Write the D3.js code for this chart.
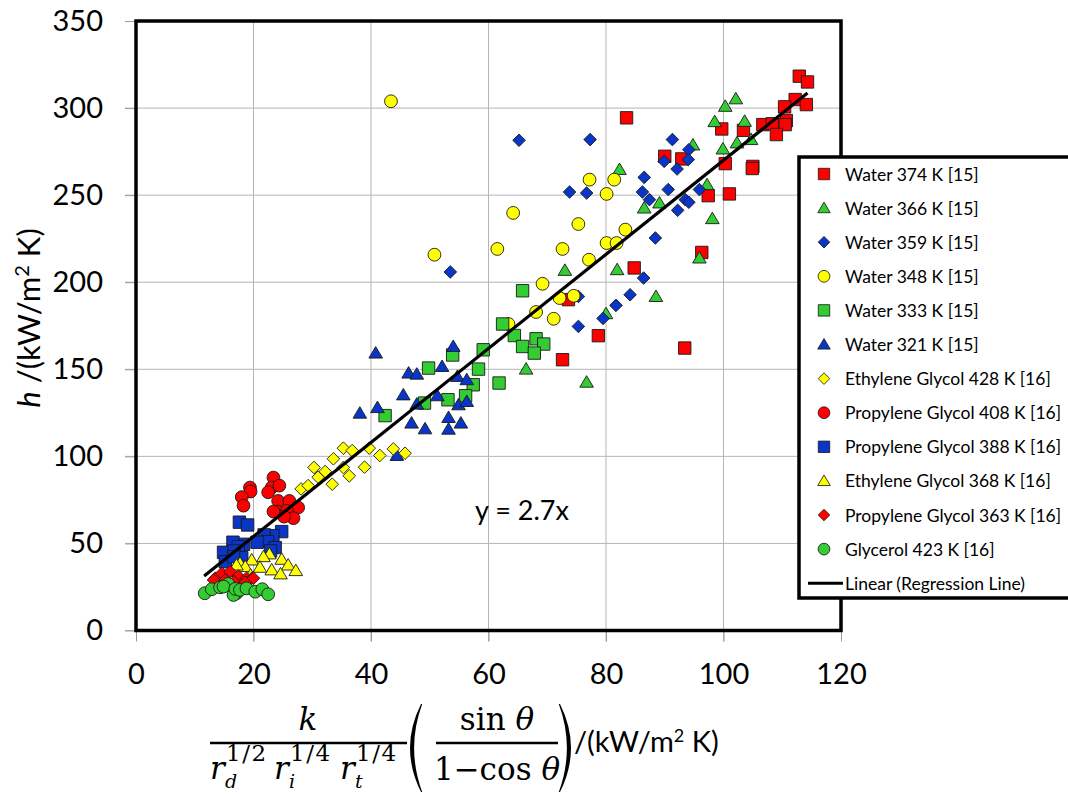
<!DOCTYPE html>
<html>
<head>
<meta charset="utf-8">
<title>h versus grouped conductivity parameter</title>
<script src="https://d3js.org/d3.v7.min.js"></script>
<style>
  body { margin: 0; background: #fff; }
  text { font-family: Lato, "Open Sans", sans-serif; fill: #000; }
  .math { font-family: "DejaVu Serif", serif; }
</style>
</head>
<body>
<div id="chart"></div>
<script>
// series values, [x, h]
var water374 = [[112.9,318.3],[114.3,315],[112.2,304.9],[114.1,302],[110.4,300.7],[83.5,294.4],[106.7,290.5],[108.3,291],[110.7,292.8],[110.5,290.5],[109,284.8],[99.7,288],[103.4,287.2],[90,272.3],[92.9,270.8],[100.3,268.1],[105,266.5],[104.9,265.3],[97.4,249.7],[101,250.7],[96.3,217.1],[84.8,208.2],[73.6,190],[78.7,169.3],[72.6,155.5],[93.4,162.2]];
var water366 = [[102.1,305.3],[100.3,301],[98.5,292.2],[103.6,292.4],[104.7,281.9],[102.3,280],[99.9,276.5],[94.8,278.8],[82.3,264.7],[97.2,256],[86.5,242.6],[89.1,245.5],[98.1,236.5],[95.9,213.9],[73,206.8],[81.9,207.2],[88.5,191.8],[80,181.9],[76.7,142.6],[66.4,150.1]];
var water359 = [[65.2,281.5],[77.3,281.9],[91.3,281.9],[94.1,276.1],[94,270.4],[89.9,269.4],[92.1,265],[86.5,260.2],[73.8,251.8],[76.7,251.2],[86.2,251.8],[90.6,253.2],[95.9,253.2],[87.4,247.4],[93.5,247.4],[94.1,245.9],[92.2,241.3],[88.4,225.4],[86.4,202.4],[84.1,192.8],[81.7,186.7],[79.5,179.2],[75.3,174.6],[75.3,191.8],[53.5,205.9]];
var water348 = [[43.4,303.9],[50.8,215.8],[61.5,219.1],[63.4,176],[64.2,239.8],[68.1,182.9],[69.2,199.1],[71.1,179],[72.1,190.9],[72.6,219.1],[74.5,192.2],[75.3,233.4],[77.1,212.9],[77.2,258.9],[80.1,250.7],[80.1,222.5],[81.8,222.5],[81.4,258.9],[83.3,230.2]];
var water333 = [[65.8,195.1],[62.4,176],[64.4,169.4],[68.1,167.5],[69.4,164.5],[65.8,163.1],[67.8,159.3],[59.1,161.2],[53.9,158.2],[49.8,150.7],[58.3,150.1],[61.8,142.1],[57.4,141.1],[56.1,134.8],[53.1,132.5],[49.1,130.6],[42.4,123.4]];
var water321 = [[40.8,159.3],[54,163.1],[52.1,151.6],[46.4,147.8],[47.8,147.2],[54.7,145.9],[56.3,144],[45.5,135.3],[51.3,134.8],[47.8,130],[54.9,129.6],[56.3,131.5],[41.1,128],[38.1,124.8],[53.2,122.3],[46.9,119.1],[55.3,119.1],[49.2,115.8],[53.2,115.6],[44.4,100.5]];
var eg428 = [[28.1,81.3],[29.3,83.2],[30.3,93.6],[31,88],[32.2,91.3],[33.4,84],[33.6,98.6],[35.3,104.7],[35.3,93.6],[36.3,88.8],[36.8,103.3],[38.9,93.8],[39.7,104.7],[41.5,100.5],[43.8,104.3],[45.8,101.8]];
var pg408 = [[23.4,87.8],[19.4,82.1],[23.1,82.1],[24.4,83.2],[19.5,79.8],[18,76.6],[22.5,79.4],[18.3,71.7],[24.2,74.4],[26.1,74.4],[24.1,68.3],[27.6,70.6],[25.7,68.7],[26.8,64.5],[25.2,65.4],[23.4,68.3]];
var pg388 = [[17.6,62.2],[19,60.6],[24.8,56.8],[23.3,54.5],[21.8,54.9],[22.4,51],[20.6,50.7],[18.3,49.5],[16.5,50.7],[23.7,47.6],[17.4,48.2],[14.9,44.9],[16.7,45.7],[15.2,39.5],[18,41.8],[22.9,45.7],[16.6,42.4]];
var eg368 = [[22.7,44],[21.7,42.4],[19.7,40.5],[17.7,38.6],[24.8,40.9],[25.9,37.6],[21.1,36.3],[23.1,34.8],[24.6,32.5],[27.2,34.4],[18.6,36.7],[17.1,37.6],[19.5,31.9]];
var pg363 = [[13.5,30],[14.6,32.9],[16,33.8],[17.4,31.3],[18.8,30],[19.7,30],[13.2,29],[15.2,29],[16.7,28],[18.6,27.7],[20,30]];
var gly423 = [[11.7,21.4],[12.9,23.7],[14.3,24.8],[15.7,26.7],[14.9,25.2],[17.1,21.4],[16.6,20.4],[16.9,23.9],[17.7,23.3],[18.8,24.2],[20.3,22.3],[21.5,23.7],[22.5,20.8]];

var seriesNames = ["Water 374 K [15]", "Water 366 K [15]", "Water 359 K [15]", "Water 348 K [15]",
  "Water 333 K [15]", "Water 321 K [15]", "Ethylene Glycol 428 K [16]", "Propylene Glycol 408 K [16]",
  "Propylene Glycol 388 K [16]", "Ethylene Glycol 368 K [16]", "Propylene Glycol 363 K [16]", "Glycerol 423 K [16]"];
var seriesValues = [water374, water366, water359, water348, water333, water321, eg428, pg408, pg388, eg368, pg363, gly423];
var fitName = "Linear (Regression Line)";
var fitSlope = 2.7;
var fitRange = [11.6, 114.3];
var xTicks = [0, 20, 40, 60, 80, 100, 120];
var yTicks = [0, 50, 100, 150, 200, 250, 300, 350];

// marker look per series (same order as seriesNames)
var red = "#ff0000", green = "#33cc33", blue = "#0a36c8", yellow = "#ffff00";
var looks = [
  {shape: "square", fill: red}, {shape: "triangle", fill: green}, {shape: "diamond", fill: blue},
  {shape: "circle", fill: yellow}, {shape: "square", fill: green}, {shape: "triangle", fill: blue},
  {shape: "diamond", fill: yellow}, {shape: "circle", fill: red}, {shape: "square", fill: blue},
  {shape: "triangle", fill: yellow}, {shape: "diamond", fill: red}, {shape: "circle", fill: green}
];

function markerPath(shape) {
  var p = d3.path();
  if (shape == "square") { p.rect(-6.2, -6.2, 12.4, 12.4); }
  else if (shape == "circle") { p.arc(0, 0, 6.4, 0, 2 * Math.PI); }
  else if (shape == "triangle") { p.moveTo(0, -6.5); p.lineTo(6.8, 5); p.lineTo(-6.8, 5); p.closePath(); }
  else { p.moveTo(0, -6.3); p.lineTo(6.3, 0); p.lineTo(0, 6.3); p.lineTo(-6.3, 0); p.closePath(); }
  return p.toString();
}

var W = 1068, H = 795;
var svg = d3.select("#chart").append("svg").attr("width", W).attr("height", H);

var x = d3.scaleLinear().domain([0, 120]).range([136, 841]);
var y = d3.scaleLinear().domain([0, 350]).range([630.5, 21]);

// gridlines
svg.append("g")
  .selectAll("line.vg").data(xTicks.slice(1, -1)).enter().append("line")
  .attr("x1", function(d) { return x(d); }).attr("x2", function(d) { return x(d); })
  .attr("y1", y(350)).attr("y2", y(0) + 11)
  .attr("stroke", "#b5b5b5").attr("stroke-width", 1);
svg.append("g")
  .selectAll("line.hg").data(yTicks.slice(0, -1)).enter().append("line")
  .attr("x1", x(0) - 11).attr("x2", x(120))
  .attr("y1", function(d) { return y(d); }).attr("y2", function(d) { return y(d); })
  .attr("stroke", "#b5b5b5").attr("stroke-width", 1);

// axes (ticks + labels)
var xAxis = svg.append("g").attr("transform", "translate(0," + y(0) + ")")
  .call(d3.axisBottom(x).tickValues(xTicks).tickSize(11).tickPadding(22));
xAxis.select(".domain").remove();
xAxis.selectAll(".tick line").attr("stroke", "#9a9a9a");
xAxis.selectAll("text").style("font-family", "Lato, sans-serif").style("font-size", "29px");

var yAxis = svg.append("g").attr("transform", "translate(" + x(0) + ",0)")
  .call(d3.axisLeft(y).tickValues(yTicks).tickSize(11).tickPadding(22));
yAxis.select(".domain").remove();
yAxis.selectAll(".tick line").attr("stroke", "#9a9a9a");
yAxis.selectAll("text").style("font-family", "Lato, sans-serif").style("font-size", "29px");

// plot frame
svg.append("rect")
  .attr("x", x(0)).attr("y", y(350))
  .attr("width", x(120) - x(0)).attr("height", y(0) - y(350))
  .attr("fill", "none").attr("stroke", "#000").attr("stroke-width", 3.5);

// markers
seriesValues.forEach(function(vals, i) {
  svg.append("g").selectAll("path").data(vals).enter().append("path")
    .attr("d", markerPath(looks[i].shape))
    .attr("transform", function(d) { return "translate(" + x(d[0]) + "," + y(d[1]) + ")"; })
    .attr("fill", looks[i].fill)
    .attr("stroke", "#1a1a1a").attr("stroke-width", 0.9);
});

// regression line y = 2.7x
svg.append("line")
  .attr("x1", x(fitRange[0])).attr("y1", y(fitSlope * fitRange[0]))
  .attr("x2", x(fitRange[1])).attr("y2", y(fitSlope * fitRange[1]))
  .attr("stroke", "#000").attr("stroke-width", 3.2);

svg.append("text").attr("x", 522).attr("y", 520).attr("text-anchor", "middle")
  .style("font-size", "27px").text("y = 2.7x");

// legend
var lg = svg.append("g").attr("transform", "translate(799,157)");
lg.append("rect").attr("width", 300).attr("height", 441)
  .attr("fill", "#fff").attr("stroke", "#000").attr("stroke-width", 3.5);
seriesNames.forEach(function(name, i) {
  var cy = 17 + i * 34.1;
  lg.append("path").attr("d", markerPath(looks[i].shape))
    .attr("transform", "translate(25," + cy + ") scale(0.92)")
    .attr("fill", looks[i].fill).attr("stroke", "#1a1a1a").attr("stroke-width", 0.9);
  lg.append("text").attr("x", 46).attr("y", cy + 6.5).style("font-size", "17.5px").text(name);
});
var fy = 17 + 12 * 34.1;
lg.append("line").attr("x1", 9).attr("x2", 44).attr("y1", fy).attr("y2", fy)
  .attr("stroke", "#000").attr("stroke-width", 3);
lg.append("text").attr("x", 46).attr("y", fy + 6.5).style("font-size", "17.5px").text(fitName);

// y axis title
var yt = svg.append("text").attr("transform", "translate(40,318) rotate(-90)")
  .attr("text-anchor", "middle").style("font-size", "31px");
yt.append("tspan").style("font-style", "italic").text("h");
yt.append("tspan").text(" /(kW/m");
yt.append("tspan").attr("dy", -11).style("font-size", "20px").text("2");
yt.append("tspan").attr("dy", 11).text(" K)");

// x axis title: k / (r_d^1/2 r_i^1/4 r_t^1/4) * (sin θ / (1 − cos θ)) /(kW/m² K)
var xt = svg.append("g");
xt.append("text").attr("class", "math").attr("x", 308).attr("y", 730).attr("text-anchor", "middle")
  .style("font-size", "31px").style("font-style", "italic").text("k");
xt.append("line").attr("x1", 210).attr("x2", 407).attr("y1", 743).attr("y2", 743)
  .attr("stroke", "#000").attr("stroke-width", 2.4);
var rParts = [{x: 210, exp: "1/2", sub: "d"}, {x: 274, exp: "1/4", sub: "i"}, {x: 340, exp: "1/4", sub: "t"}];
rParts.forEach(function(r) {
  xt.append("text").attr("class", "math").attr("x", r.x).attr("y", 779)
    .style("font-size", "31px").style("font-style", "italic").text("r");
  xt.append("text").attr("class", "math").attr("x", r.x + 16).attr("y", 761)
    .style("font-size", "23px").style("letter-spacing", "1.5px").text(r.exp);
  xt.append("text").attr("class", "math").attr("x", r.x + 15).attr("y", 788)
    .style("font-size", "19px").style("font-style", "italic").text(r.sub);
});
function paren(x0, dir) {
  // filled crescent, thick in the middle and thin at the ends
  var top = 704, bot = 792, mid = (top + bot) / 2;
  var p = d3.path();
  p.moveTo(x0, top);
  p.quadraticCurveTo(x0 - dir * 22, mid, x0, bot);
  p.lineTo(x0 + dir * 1.2, bot);
  p.quadraticCurveTo(x0 - dir * 15, mid, x0 + dir * 1.2, top);
  p.closePath();
  return p.toString();
}
xt.append("path").attr("d", paren(421, 1)).attr("fill", "#000");
xt.append("path").attr("d", paren(560, -1)).attr("fill", "#000");
var sinT = xt.append("text").attr("class", "math").attr("x", 497).attr("y", 730)
  .attr("text-anchor", "middle").style("font-size", "31px");
sinT.append("tspan").text("sin ");
sinT.append("tspan").style("font-style", "italic").text("θ");
xt.append("line").attr("x1", 436).attr("x2", 558).attr("y1", 743).attr("y2", 743)
  .attr("stroke", "#000").attr("stroke-width", 2.4);
var cosT = xt.append("text").attr("class", "math").attr("x", 497).attr("y", 780)
  .attr("text-anchor", "middle").style("font-size", "31px");
cosT.append("tspan").text("1−cos ");
cosT.append("tspan").style("font-style", "italic").text("θ");
var unitT = xt.append("text").attr("x", 574).attr("y", 752).style("font-size", "29px");
unitT.append("tspan").text("/(kW/m");
unitT.append("tspan").attr("dy", -10).style("font-size", "18px").text("2");
unitT.append("tspan").attr("dy", 10).text(" K)");
</script>
</body>
</html>
